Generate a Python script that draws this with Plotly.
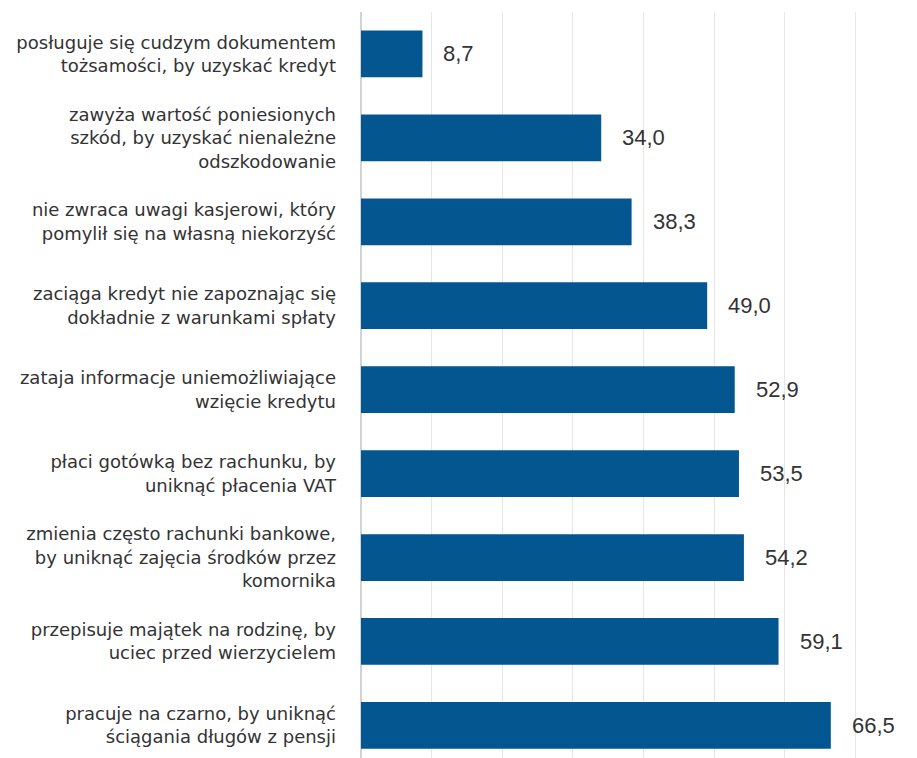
import plotly.graph_objects as go

# Share of respondents (%) per behaviour
categories = [
    "posługuje się cudzym dokumentem<br>tożsamości, by uzyskać kredyt",
    "zawyża wartość poniesionych<br>szkód, by uzyskać nienależne<br>odszkodowanie",
    "nie zwraca uwagi kasjerowi, który<br>pomylił się na własną niekorzyść",
    "zaciąga kredyt nie zapoznając się<br>dokładnie z warunkami spłaty",
    "zataja informacje uniemożliwiające<br>wzięcie kredytu",
    "płaci gotówką bez rachunku, by<br>uniknąć płacenia VAT",
    "zmienia często rachunki bankowe,<br>by uniknąć zajęcia środków przez<br>komornika",
    "przepisuje majątek na rodzinę, by<br>uciec przed wierzycielem",
    "pracuje na czarno, by uniknąć<br>ściągania długów z pensji",
]
values = [8.7, 34.0, 38.3, 49.0, 52.9, 53.5, 54.2, 59.1, 66.5]

BAR_COLOR = "#03568F"
TEXT_COLOR = "#333333"
LABEL_FONT = "DejaVu Sans"
VALUE_FONT = "Liberation Sans"

fig = go.Figure(
    go.Bar(
        x=values,
        y=categories,
        orientation="h",
        marker=dict(color=BAR_COLOR, line=dict(width=0)),
        width=0.557,
        hoverinfo="skip",
    )
)

# value labels to the right of each bar
for cat, v in zip(categories, values):
    fig.add_annotation(
        x=v,
        y=cat,
        text=f"{v:.1f}".replace(".", ","),
        showarrow=False,
        xanchor="left",
        yanchor="middle",
        xshift=19,
        font=dict(family=VALUE_FONT, size=22, color=TEXT_COLOR),
    )

fig.update_layout(
    width=917,
    height=758,
    margin=dict(l=361, r=12, t=12, b=0),
    paper_bgcolor="white",
    plot_bgcolor="white",
    showlegend=False,
    xaxis=dict(
        range=[0, 77],
        dtick=10,
        showticklabels=False,
        showgrid=True,
        gridcolor="#E6E6E6",
        gridwidth=1,
        zeroline=True,
        zerolinecolor="#D3D3D3",
        zerolinewidth=2,
        fixedrange=True,
    ),
    yaxis=dict(
        type="category",
        categoryorder="array",
        categoryarray=categories,
        range=[8.389, -0.5],
        showgrid=False,
        zeroline=False,
        ticks="",
        ticklabelstandoff=24,
        tickfont=dict(family=LABEL_FONT, size=18, color=TEXT_COLOR),
        fixedrange=True,
    ),
)

fig.write_html("out.html")
